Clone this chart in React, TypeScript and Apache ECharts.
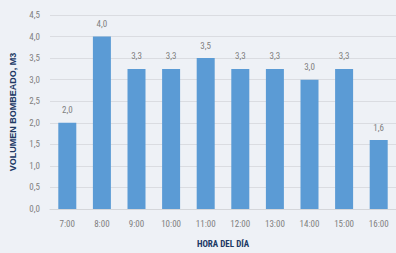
import React, { useEffect, useRef } from "react";
import * as echarts from "echarts";

const categories = ["7:00", "8:00", "9:00", "10:00", "11:00", "12:00", "13:00", "14:00", "15:00", "16:00"];
const values = [2.0, 4.0, 3.25, 3.25, 3.5, 3.25, 3.25, 3.0, 3.25, 1.6];
const yTicks = { min: 0, max: 4.5, interval: 0.5 };

const FONT = "'Liberation Sans Narrow', 'Roboto Condensed', Roboto, sans-serif";

export default function App() {
  const ref = useRef<HTMLDivElement>(null);
  useEffect(() => {
    if (!ref.current) return;
    const chart = echarts.init(ref.current, null, { renderer: "svg" });
    chart.setOption({
      animation: false,
      backgroundColor: "#eef1f6",
      grid: { left: 47, top: 15, width: 353, height: 201, containLabel: false },
      xAxis: {
        type: "category",
        data: categories,
        axisTick: { show: false },
        axisLine: { lineStyle: { color: "#d4d6da" } },
        axisLabel: { color: "#7f7f7f", fontSize: 9, fontFamily: FONT, margin: 10 },
        name: "HORA DEL DÍA",
        nameLocation: "middle",
        nameGap: 30,
        nameTextStyle: { color: "#203864", fontWeight: "bold", fontSize: 9, fontFamily: FONT },
      },
      yAxis: {
        type: "value",
        min: yTicks.min,
        max: yTicks.max,
        interval: yTicks.interval,
        axisLabel: {
          color: "#7f7f7f",
          fontSize: 9,
          fontFamily: FONT,
          margin: 10,
          formatter: (v: number) => v.toFixed(1).replace(".", ","),
        },
        splitLine: { lineStyle: { color: "#dadce1" } },
        name: "VOLUMEN BOMBEADO, M3",
        nameLocation: "middle",
        nameGap: 33,
        nameTextStyle: { color: "#203864", fontWeight: "bold", fontSize: 9, fontFamily: "'Liberation Sans', Arial, sans-serif" },
      },
      series: [
        {
          type: "bar",
          data: values,
          barWidth: 18,
          itemStyle: { color: "#5b9bd5" },
          label: {
            show: true,
            position: "top",
            distance: 8,
            color: "#7f7f7f",
            fontSize: 9,
            fontFamily: FONT,
            formatter: (p: any) => Number(p.value).toFixed(1).replace(".", ","),
          },
        },
      ],
    });
    return () => chart.dispose();
  }, []);
  return <div ref={ref} style={{ position: "fixed", left: 0, top: 0, width: 396, height: 253 }} />;
}
